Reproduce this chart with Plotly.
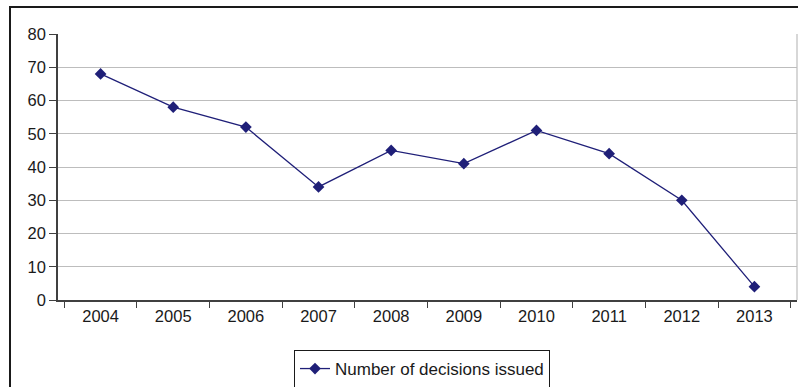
import plotly.graph_objects as go

years = ["2004", "2005", "2006", "2007", "2008", "2009", "2010", "2011", "2012", "2013"]
decisions = [68, 58, 52, 34, 45, 41, 51, 44, 30, 4]
series_name = "Number of decisions issued"
y_ticks = [0, 10, 20, 30, 40, 50, 60, 70, 80]

W, H = 798, 387
L, R, T, B = 58, 1, 34, 87
pw = W - L - R
ph = H - T - B

navy = "#1F1F78"
font = dict(family="Liberation Sans, Arial, sans-serif", size=16.5, color="#1a1a1a")
lfont = dict(family="Liberation Sans, Arial, sans-serif", size=17, color="#1a1a1a")

fig = go.Figure()
fig.add_trace(go.Scatter(
    x=years, y=decisions, mode="lines+markers", name=series_name,
    line=dict(color=navy, width=1.3),
    marker=dict(symbol="diamond", size=9, color=navy),
))

fig.update_layout(
    width=W, height=H,
    margin=dict(l=L, r=R, t=T, b=B, autoexpand=False),
    paper_bgcolor="white", plot_bgcolor="white",
    font=font,
    showlegend=True,
    legend=dict(
        orientation="h",
        x=(294 - L) / pw, xanchor="left",
        y=-(369 - (T + ph)) / ph, yanchor="middle",
        bordercolor="#1a1a1a", borderwidth=1, bgcolor="white",
        font=lfont, tracegroupgap=0,
    ),
    xaxis=dict(
        type="category", showgrid=False, automargin=False,
        ticks="outside", tickson="boundaries", ticklen=6, tickcolor="#404040",
        showline=True, linecolor="#404040", linewidth=1.5,
        tickfont=font,
    ),
    yaxis=dict(
        range=[0, 80], tickvals=y_ticks, automargin=False,
        showgrid=True, gridcolor="#BDBDBD", gridwidth=1.2,
        ticks="outside", ticklen=7, tickcolor="#404040",
        showline=True, linecolor="#404040", linewidth=1.5,
        zeroline=False, tickfont=font,
    ),
    shapes=[
        dict(type="line", xref="paper", yref="paper", x0=1, x1=1, y0=0, y1=1,
             line=dict(color="#BDBDBD", width=1.2)),
        dict(type="rect", xref="paper", yref="paper",
             x0=(10 - L) / pw, x1=1.2,
             y0=-0.6, y1=(T + ph - 7) / ph,
             line=dict(color="#1a1a1a", width=2), fillcolor="rgba(0,0,0,0)", layer="below"),
    ],
)

fig.write_html("out.html")
